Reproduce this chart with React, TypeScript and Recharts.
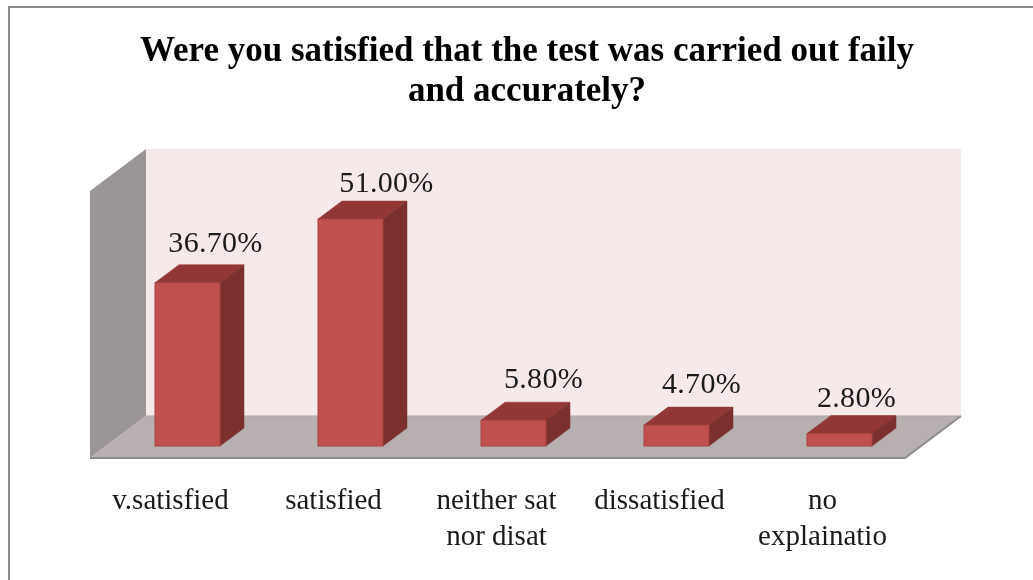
import React from "react";
import { BarChart, Bar, XAxis, YAxis, LabelList, ReferenceArea } from "recharts";

const categories = ["v.satisfied", "satisfied", "neither sat\nnor disat", "dissatisfied", "no\nexplainatio"];
const values = [36.7, 51.0, 5.8, 4.7, 2.8];
const titleLines = ["Were you satisfied that the test was carried out faily", "and accurately?"];
const yMax = 60;

const rows = categories.map((name, i) => ({ name, value: values[i] }));

const labelShiftX = [28, 36, 30, 25, 17];
const labelShiftY = [-31, -27, -32, -32, -27];

const FONT = "'Liberation Serif', 'Times New Roman', serif";
const DX = 24;
const DY = -18;

function Room(props: any) {
  const { x, y, width, height } = props;
  const l = x;
  const r = x + width;
  const t = y;
  const b = y + height;
  const frontX = -16, frontY = 12, backX = 40, backY = -30;
  const poly = (pts: number[][]) => pts.map((p) => p.join(",")).join(" ");
  return (
    <g>
      <polygon points={poly([[l + backX, t + backY], [r + backX, t + backY], [r + backX, b + backY], [l + backX, b + backY]])} fill="#F5E9E9" />
      <polygon points={poly([[l + frontX, t + frontY], [l + backX, t + backY], [l + backX, b + backY], [l + frontX, b + frontY]])} fill="#9B9595" />
      <polygon points={poly([[l + frontX, b + frontY], [l + backX, b + backY], [r + backX, b + backY], [r + frontX, b + frontY]])} fill="#B8B0B0" />
      <polyline points={poly([[l + frontX, b + frontY], [r + frontX, b + frontY], [r + backX, b + backY]])} fill="none" stroke="#8C8C8C" strokeWidth={2} />
      <line x1={l + backX} y1={b + backY} x2={r + backX} y2={b + backY} stroke="#A9A5A5" strokeWidth={1} />
    </g>
  );
}

function Bar3D(props: any) {
  const { x, y, width, height } = props;
  const r = x + width;
  const b = y + height;
  return (
    <g>
      <polygon points={`${x},${y} ${x + DX},${y + DY} ${r + DX},${y + DY} ${r},${y}`} fill="#923735" stroke="#923735" strokeWidth={0.5} />
      <polygon points={`${r},${y} ${r + DX},${y + DY} ${r + DX},${b + DY} ${r},${b}`} fill="#7B302E" stroke="#7B302E" strokeWidth={0.5} />
      <rect x={x} y={y} width={width} height={height} fill="#C0504D" stroke="#A84341" strokeWidth={1} />
    </g>
  );
}

function ValueLabel(props: any) {
  const { x, y, width, value, index } = props;
  return (
    <text
      x={x + width / 2 + labelShiftX[index]}
      y={y + labelShiftY[index]}
      textAnchor="middle"
      fontFamily={FONT}
      fontSize={30}
      letterSpacing={0.3}
      fill="#1a1a1a"
    >
      {`${Number(value).toFixed(2)}%`}
    </text>
  );
}

function CategoryTick(props: any) {
  const { x, y, payload } = props;
  const lines = String(payload.value).split("\n");
  return (
    <text textAnchor="middle" fontFamily={FONT} fontSize={29} fill="#1a1a1a">
      {lines.map((line, i) => (
        <tspan key={line} x={x - 17} y={y + 55 + i * 36}>
          {line}
        </tspan>
      ))}
    </text>
  );
}

export default function App() {
  return (
    <div style={{ position: "absolute", left: 0, top: 0, width: 1033, height: 580, background: "#fff", overflow: "hidden", filter: "blur(0.4px)" }}>
      <div style={{ position: "absolute", left: 8, top: 6, width: 1025, height: 2, background: "#8C8C8C" }} />
      <div style={{ position: "absolute", left: 8, top: 6, width: 2, height: 574, background: "#8C8C8C" }} />
      <div
        style={{
          position: "absolute",
          left: 0,
          top: 30,
          width: 1054,
          textAlign: "center",
          fontFamily: FONT,
          fontWeight: 700,
          fontSize: 35,
          lineHeight: "40px",
          color: "#000",
        }}
      >
        {titleLines.map((line) => (
          <div key={line}>{line}</div>
        ))}
      </div>
      <div style={{ position: "absolute", left: 0, top: 0 }}>
        <BarChart width={1033} height={580} data={rows} margin={{ top: 179, bottom: 0, left: 106, right: 112 }} barSize={65}>
          <XAxis dataKey="name" axisLine={false} tickLine={false} interval={0} height={134} tick={<CategoryTick />} />
          <YAxis hide width={0} domain={[0, yMax]} />
          <ReferenceArea y1={0} y2={yMax} ifOverflow="visible" shape={<Room />} />
          <Bar dataKey="value" isAnimationActive={false} shape={<Bar3D />}>
            <LabelList dataKey="value" content={<ValueLabel />} />
          </Bar>
        </BarChart>
      </div>
    </div>
  );
}
